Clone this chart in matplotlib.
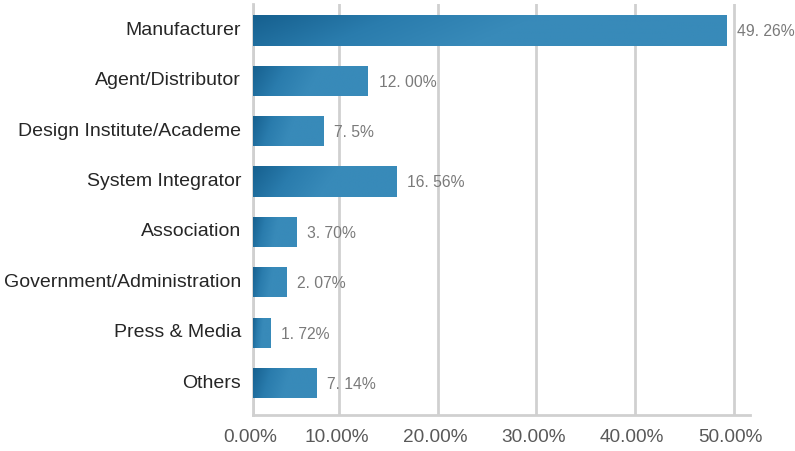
import numpy as np
import matplotlib
matplotlib.use("Agg")
import matplotlib.pyplot as plt
import matplotlib.transforms as mtransforms
from matplotlib.colors import LinearSegmentedColormap

# data
categories = ["Manufacturer", "Agent/Distributor", "Design Institute/Academe",
              "System Integrator", "Association", "Government/Administration",
              "Press & Media", "Others"]
bar_widths = [49.2, 11.95, 7.28, 14.87, 4.47, 3.43, 1.77, 6.55]   # bar lengths as drawn (%)
pct_labels = ["49. 26%", "12. 00%", "7. 5%", "16. 56%", "3. 70%", "2. 07%", "1. 72%", "7. 14%"]
tick_pos = [0, 9.0, 19.25, 29.45, 39.7, 50]
tick_labels = ["0.00%", "10.00%", "20.00%", "30.00%", "40.00%", "50.00%"]

plt.rcParams['font.family'] = ['Liberation Sans', 'DejaVu Sans']

fig = plt.figure(figsize=(7.95, 4.51), dpi=100)
ax = fig.add_axes([0.318, 0.0798, 0.6252, 0.9113])

y = np.arange(len(categories))
bars = ax.barh(y, bar_widths, height=0.6, color="none", edgecolor="none", zorder=3)

# diagonal gradient, dark top-left -> lighter towards the right
cmap = LinearSegmentedColormap.from_list("blu", ["#16608f", "#2a7cad", "#388ab9"])
gx, gy = np.meshgrid(np.linspace(0, 1, 200), np.linspace(0, 1, 40))
for b in bars:
    x0, y0 = b.get_x(), b.get_y()
    w, h = b.get_width(), b.get_height()
    grad = np.clip((gx + gy * 0.15) / 0.6, 0, 1)
    im = ax.imshow(grad, cmap=cmap, aspect="auto", extent=[x0, x0 + w, y0 + h, y0],
                   origin="upper", zorder=3, interpolation="bilinear", vmin=0, vmax=1.0)
    im.set_clip_path(b)

for i, (w, lab) in enumerate(zip(bar_widths, pct_labels)):
    ax.annotate(lab, (w, i), xytext=(8, -1), textcoords="offset points",
                va="center", ha="left", fontsize=11.3, color="#7a7a7a", zorder=4)

ax.set_xlim(0, 51.66)
ax.set_ylim(7.635, -0.526)
ax.set_xticks(tick_pos)
ax.set_xticklabels(tick_labels, fontsize=13.7, color="#595959")
ax.set_yticks(y)
ax.set_yticklabels(categories, fontsize=14, color="#262626")
ax.tick_params(axis="both", length=0)
ax.tick_params(axis="x", pad=10)
ax.tick_params(axis="y", pad=8.5)

# small nudges: x labels sit a bit left of the gridlines, y labels a bit high
shift_x = mtransforms.ScaledTranslation(-3 / 100, 0, fig.dpi_scale_trans)
for t in ax.get_xticklabels():
    t.set_transform(t.get_transform() + shift_x)
shift_y = mtransforms.ScaledTranslation(0, 2 / 100, fig.dpi_scale_trans)
for t in ax.get_yticklabels():
    t.set_transform(t.get_transform() + shift_y)

ax.grid(axis="x", color="#d0d0d0", linewidth=2, zorder=0)
for s in ["top", "right"]:
    ax.spines[s].set_visible(False)
ax.spines["left"].set_color("#d0d0d0")
ax.spines["left"].set_linewidth(2)
ax.spines["bottom"].set_color("#d0d0d0")
ax.spines["bottom"].set_linewidth(2)
ax.set_axisbelow(True)

fig.savefig("out.png", dpi=100)
